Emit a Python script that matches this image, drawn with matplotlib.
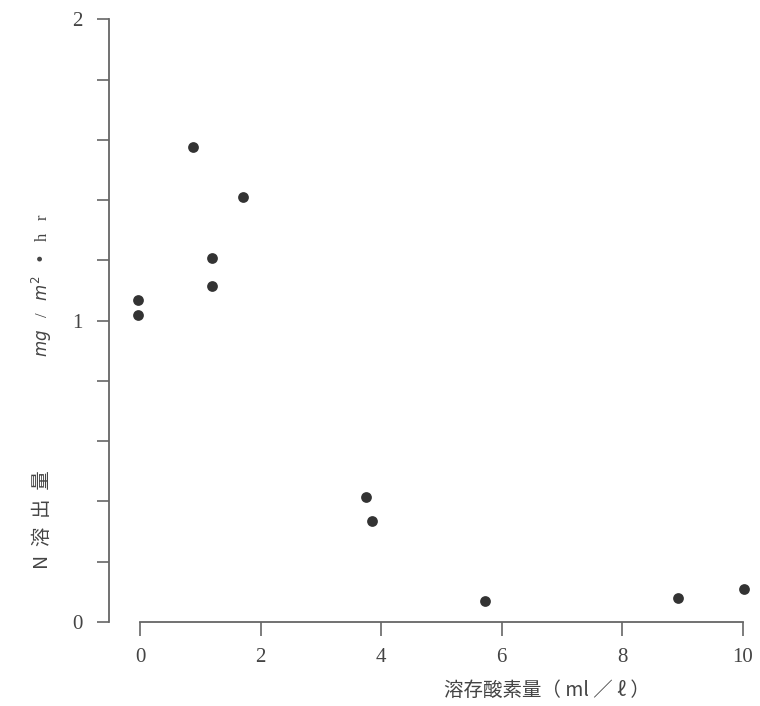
import matplotlib
matplotlib.use("Agg")
import matplotlib.pyplot as plt
from matplotlib.ticker import MultipleLocator

plt.rcParams['font.family'] = ['Liberation Serif', 'Noto Sans CJK JP', 'DejaVu Sans']

# Data
do_values = [-0.04, -0.04, 0.885, 1.19, 1.19, 1.71, 3.75, 3.85, 5.72, 8.92, 10.02]
n_release = [1.068, 1.019, 1.575, 1.208, 1.115, 1.412, 0.416, 0.334, 0.071, 0.080, 0.109]
x_ticks = [0, 2, 4, 6, 8, 10]
y_ticks = [0, 1, 2]

fig = plt.figure(figsize=(7.6, 7.06), dpi=100)
ax = fig.add_axes([109/760, (706-622)/706, (743-109)/760, (622-19.4)/706])

axis_col = '#666666'
ax.scatter(do_values, n_release, s=60, color='#333333', zorder=3, clip_on=False, linewidths=0)

ax.set_xlim(-31/60.3, 10)
ax.set_ylim(0, 2)

for s in ['top', 'right']:
    ax.spines[s].set_visible(False)
ax.spines['left'].set_color(axis_col)
ax.spines['bottom'].set_color(axis_col)
ax.spines['left'].set_linewidth(1.3)
ax.spines['bottom'].set_linewidth(1.3)
ax.spines['bottom'].set_bounds(0, 10)

ax.set_xticks(x_ticks)
ax.set_yticks(y_ticks)
ax.yaxis.set_minor_locator(MultipleLocator(0.2))
ax.tick_params(axis='both', which='both', direction='out', color=axis_col, width=1.2,
               labelcolor='#444444', labelsize=15)
ax.tick_params(axis='y', which='both', length=9, pad=10)
ax.tick_params(axis='x', which='major', length=10, pad=9)

fig.text(42/760, 1 - 520/706, 'N  溶  出  量', rotation=90, ha='center', va='center',
         fontsize=14, color='#444444', family=['Noto Sans CJK JP', 'DejaVu Sans'])
fig.text(42/760, 1 - 285/706, r'$mg$   /   $m^{2}$   •   h   r', rotation=90, ha='center', va='center',
         fontsize=12, color='#444444', family=['Liberation Serif', 'DejaVu Sans'])
fig.text(547/760, 1 - 690/706, '溶存酸素量（ ml ／ ℓ ）', ha='center', va='center',
         fontsize=14, color='#444444', family=['Noto Sans CJK JP', 'DejaVu Sans'])

fig.savefig('out.png', dpi=100)
